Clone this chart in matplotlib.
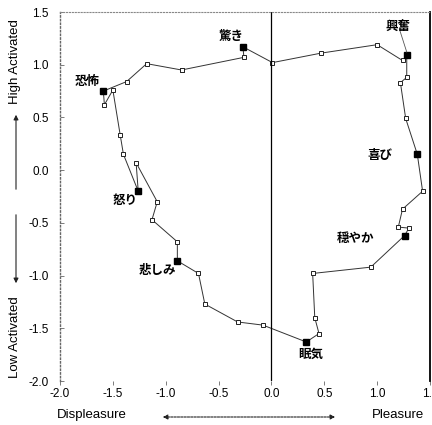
import matplotlib
matplotlib.use("Agg")
import matplotlib.pyplot as plt

plt.rcParams['font.family'] = ['Liberation Sans', 'Noto Sans CJK JP', 'DejaVu Sans']

# path around the circumplex (pleasure, activation)
px = [-0.85, -0.26, -0.27, 0.01, 0.47, 1.00, 1.24, 1.28, 1.28, 1.22, 1.27, 1.38,
      1.43, 1.24, 1.20, 1.30, 1.26, 0.94, 0.39, 0.41, 0.45, 0.33, -0.08, -0.32,
      -0.63, -0.69, -0.89, -0.89, -1.13, -1.08, -1.28, -1.26, -1.40, -1.43,
      -1.50, -1.58, -1.59, -1.37, -1.18, -0.85]
py = [0.95, 1.07, 1.17, 1.02, 1.11, 1.19, 1.04, 1.09, 0.88, 0.83, 0.49, 0.15,
      -0.20, -0.37, -0.54, -0.55, -0.62, -0.92, -0.98, -1.40, -1.55, -1.63, -1.47, -1.44,
      -1.27, -0.98, -0.86, -0.68, -0.47, -0.30, 0.07, -0.20, 0.15, 0.33,
      0.76, 0.62, 0.75, 0.84, 1.01, 0.95]

# emotion words (filled markers)
emo = ['驚き', '興奮', '喜び', '穏やか', '眠気', '悲しみ', '怒り', '恐怖']
emo_x = [-0.27, 1.28, 1.38, 1.26, 0.33, -0.89, -1.26, -1.59]
emo_y = [1.17, 1.09, 0.15, -0.62, -1.63, -0.86, -0.20, 0.75]
lab_x = [-0.38, 1.20, 1.03, 0.80, 0.37, -1.08, -1.38, -1.74]
lab_y = [1.27, 1.36, 0.14, -0.65, -1.75, -0.95, -0.29, 0.84]

fig = plt.figure(figsize=(4.32, 4.25), dpi=100)
ax = fig.add_axes([60/432, 44/425, 370/432, 369/425])

ax.plot(px, py, '-', color='#333333', lw=0.7, marker='s', ms=3.5,
        mfc='white', mec='#222222', mew=0.7)
ax.plot(emo_x, emo_y, 's', color='black', ms=4)
for t, x, y in zip(emo, lab_x, lab_y):
    ax.text(x, y, t, fontsize=9, fontweight='bold', ha='center', va='center',
            family=['Noto Sans CJK JP'])
ax.plot([1.21, 1.28], [1.34, 1.12], color='#555555', lw=0.6)

ax.axvline(0, color='black', lw=0.9)
ax.set_xlim(-2.0, 1.5)
ax.set_ylim(-2.0, 1.5)
ax.set_xticks([-2.0, -1.5, -1.0, -0.5, 0.0, 0.5, 1.0, 1.5])
ax.set_yticks([-2.0, -1.5, -1.0, -0.5, 0.0, 0.5, 1.0, 1.5])
ax.xaxis.set_major_formatter(plt.FormatStrFormatter('%.1f'))
ax.yaxis.set_major_formatter(plt.FormatStrFormatter('%.1f'))
ax.tick_params(axis='x', direction='out', length=3, width=0.6, labelsize=8.5, pad=2, color='#666666')
ax.tick_params(axis='y', direction='in', length=3, width=0.6, labelsize=8.5, pad=8, color='#666666')

ax.spines['bottom'].set_visible(False)
ax.spines['top'].set_linestyle(':')
ax.spines['top'].set_color('#888888')
ax.spines['top'].set_linewidth(0.8)
ax.spines['left'].set_linestyle(':')
ax.spines['left'].set_color('#666666')
ax.spines['left'].set_linewidth(1.0)
ax.spines['right'].set_color('black')
ax.spines['right'].set_linewidth(1.3)

fig.text(15/432, 1 - 62/425, 'High Activated', rotation=90, ha='center', va='center', fontsize=9.5)
fig.text(15/432, 1 - 337/425, 'Low Activated', rotation=90, ha='center', va='center', fontsize=9.5)
fig.text(92/432, 1 - 415/425, 'Displeasure', ha='center', va='center', fontsize=9.5)
fig.text(398/432, 1 - 415/425, 'Pleasure', ha='center', va='center', fontsize=9.5)

arr = dict(arrowstyle='-|>', color='#222222', lw=0.8, mutation_scale=7)
fig.add_artist(matplotlib.patches.FancyArrowPatch((16/432, 1 - 192/425), (16/432, 1 - 112/425),
               transform=fig.transFigure, **arr))
fig.add_artist(matplotlib.patches.FancyArrowPatch((16/432, 1 - 212/425), (16/432, 1 - 286/425),
               transform=fig.transFigure, **arr))
fig.add_artist(matplotlib.patches.FancyArrowPatch((160/432, 1 - 417/425), (338/432, 1 - 417/425),
               transform=fig.transFigure, arrowstyle='<|-|>', color='#222222', lw=0.8,
               mutation_scale=7, linestyle=(0, (2, 1))))

fig.savefig('out.png', dpi=100)
